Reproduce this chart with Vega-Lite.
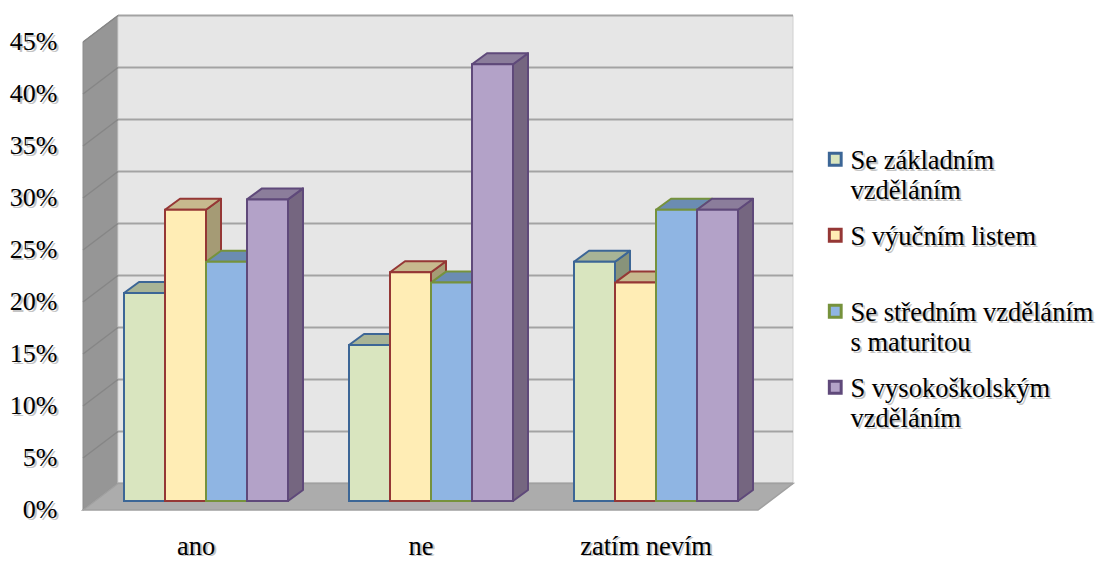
{
"$schema":"https://vega.github.io/schema/vega-lite/v6.json",
"width":1100,"height":561,"padding":0,"autosize":"none","background":"white",
"config":{"view":{"stroke":null}},
"datasets":{
"odpovedi":[
{"odpoved":"ano","vzdelani":"Se základním vzděláním","podil":0.20},
{"odpoved":"ano","vzdelani":"S výučním listem","podil":0.28},
{"odpoved":"ano","vzdelani":"Se středním vzděláním s maturitou","podil":0.23},
{"odpoved":"ano","vzdelani":"S vysokoškolským vzděláním","podil":0.29},
{"odpoved":"ne","vzdelani":"Se základním vzděláním","podil":0.15},
{"odpoved":"ne","vzdelani":"S výučním listem","podil":0.22},
{"odpoved":"ne","vzdelani":"Se středním vzděláním s maturitou","podil":0.21},
{"odpoved":"ne","vzdelani":"S vysokoškolským vzděláním","podil":0.42},
{"odpoved":"zatím nevím","vzdelani":"Se základním vzděláním","podil":0.23},
{"odpoved":"zatím nevím","vzdelani":"S výučním listem","podil":0.21},
{"odpoved":"zatím nevím","vzdelani":"Se středním vzděláním s maturitou","podil":0.28},
{"odpoved":"zatím nevím","vzdelani":"S vysokoškolským vzděláním","podil":0.28}
],
"mrizka":[{"v":0},{"v":0.05},{"v":0.1},{"v":0.15},{"v":0.2},{"v":0.25},{"v":0.3},{"v":0.35},{"v":0.4},{"v":0.45}]
},
"encoding":{
"x":{"field":"x","type":"quantitative","title":null,"scale":{"domain":[0,1100],"nice":false,"zero":false},"axis":null},
"y":{"field":"y","type":"quantitative","title":null,"stack":false,"scale":{"domain":[-0.04904,0.49038],"nice":false,"zero":false},"axis":null}
},
"layer":[
{"data":{"values":[{"k":0},{"k":1}]},
 "transform":[{"calculate":"83+35*datum.k","as":"x"},{"calculate":"0.45+0.0255*datum.k","as":"y"},{"calculate":"0.0255*datum.k","as":"y2"}],
 "mark":{"type":"area","fill":"#969696","stroke":"#8c8c8c","strokeWidth":1},
 "encoding":{"y2":{"field":"y2"},
 "x":{"field":"x","type":"quantitative","title":null,"scale":{"domain":[0,1100],"nice":false,"zero":false},
 "axis":{"orient":"bottom","offset":-28,"values":[195.5,420.5,645.5],"labelExpr":"datum.value<300?'ano':datum.value<500?'ne':'zatím nevím'","domain":false,"ticks":false,"grid":false,"labelFont":"'Liberation Serif'","labelFontSize":26.5,"labelColor":"#c4c4c4","labelPadding":1,"labelOffset":2,"labelBaseline":"top"}},
 "y":{"field":"y","type":"quantitative","title":null,"stack":false,"scale":{"domain":[-0.04904,0.49038],"nice":false,"zero":false},
 "axis":{"orient":"left","offset":-83,"values":[0,0.05,0.1,0.15,0.2,0.25,0.3,0.35,0.4,0.45],"format":".0%","domain":false,"ticks":false,"grid":false,"labelFont":"'Liberation Serif'","labelFontSize":26,"labelColor":"#c4c4c4","labelPadding":24,"labelOffset":2}}}},
{"data":{"values":[{"k":0}]},
 "transform":[{"calculate":"118","as":"x"},{"calculate":"793","as":"x2"},{"calculate":"0.4755","as":"y"},{"calculate":"0.0255","as":"y2"}],
 "mark":{"type":"rect","fill":"#e6e6e6","stroke":"#d0d0d0","strokeWidth":1},
 "encoding":{"x2":{"field":"x2"},"y2":{"field":"y2"}}},
{"data":{"name":"mrizka"},
 "transform":[{"calculate":"118","as":"x"},{"calculate":"793","as":"x2"},{"calculate":"datum.v+0.0255","as":"y"}],
 "mark":{"type":"rule","stroke":"#a3a3a3","strokeWidth":2},
 "encoding":{"x2":{"field":"x2"}}},
{"data":{"name":"mrizka"},
 "transform":[{"calculate":"83","as":"x"},{"calculate":"118","as":"x2"},{"calculate":"datum.v","as":"y"},{"calculate":"datum.v+0.0255","as":"y2"}],
 "mark":{"type":"rule","stroke":"#868686","strokeWidth":1.5},
 "encoding":{"x2":{"field":"x2"},"y2":{"field":"y2"}}},
{"data":{"values":[{"k":0},{"k":1},{"k":2},{"k":3}]},
 "transform":[{"calculate":"[83,118,758,793][datum.k]","as":"x"},{"calculate":"[0,0.0255,0.0255,0.0255][datum.k]","as":"y"},{"calculate":"[0,0,0,0.0255][datum.k]","as":"y2"}],
 "mark":{"type":"area","fill":"#acacac","stroke":"#a0a0a0","strokeWidth":1.5},
 "encoding":{"y2":{"field":"y2"}}},
{"data":{"name":"odpovedi"},
 "transform":[
 {"calculate":"indexof(['ano','ne','zatím nevím'],datum.odpoved)","as":"ci"},
 {"calculate":"indexof(['Se základním vzděláním','S výučním listem','Se středním vzděláním s maturitou','S vysokoškolským vzděláním'],datum.vzdelani)","as":"si"},
 {"calculate":"[0,1]","as":"k"},{"flatten":["k"]},
 {"calculate":"124+225*datum.ci+41*datum.si+41+15*datum.k","as":"x"},
 {"calculate":"0.00865+datum.podil+0.01058*datum.k","as":"y"},
 {"calculate":"0.00865+0.01058*datum.k","as":"y2"}],
 "mark":{"type":"area","strokeWidth":2,"strokeJoin":"round"},
 "encoding":{"y2":{"field":"y2"},"detail":{"field":"odpoved"},
  "fill":{"field":"vzdelani","type":"nominal","title":null,"scale":{"domain":["Se základním vzděláním","S výučním listem","Se středním vzděláním s maturitou","S vysokoškolským vzděláním"],"range":["#88937a","#a59b75","#5f7da3","#756680"]},
   "legend":{"orient":"none","legendX":824,"legendY":148,"columns":1,"rowPadding":17,"symbolType":"square","symbolSize":140,"symbolOpacity":0,"labelFont":"'Liberation Serif'","labelFontSize":26.5,"labelColor":"#c4c4c4","labelLimit":300,"labelOffset":2,"labelBaseline":"top","encoding":{"labels":{"lineHeight":{"value":30},"dy":{"value":-11}}},"labelExpr":"{'Se základním vzděláním':['Se základním','vzděláním'],'S výučním listem':['S výučním listem',' '],'Se středním vzděláním s maturitou':['Se středním vzděláním','s maturitou'],'S vysokoškolským vzděláním':['S vysokoškolským','vzděláním']}[datum.label]"}},
  "stroke":{"field":"vzdelani","type":"nominal","legend":null,"scale":{"domain":["Se základním vzděláním","S výučním listem","Se středním vzděláním s maturitou","S vysokoškolským vzděláním"],"range":["#3c6696","#953735","#76923c","#5f497a"]}}}},
{"data":{"name":"odpovedi"},
 "transform":[
 {"calculate":"indexof(['ano','ne','zatím nevím'],datum.odpoved)","as":"ci"},
 {"calculate":"indexof(['Se základním vzděláním','S výučním listem','Se středním vzděláním s maturitou','S vysokoškolským vzděláním'],datum.vzdelani)","as":"si"},
 {"calculate":"[0,1,2,3]","as":"k"},{"flatten":["k"]},
 {"calculate":"124+225*datum.ci+41*datum.si+[0,15,41,56][datum.k]","as":"x"},
 {"calculate":"0.00865+datum.podil+[0,0.01058,0.01058,0.01058][datum.k]","as":"y"},
 {"calculate":"0.00865+datum.podil+[0,0,0,0.01058][datum.k]","as":"y2"}],
 "mark":{"type":"area","strokeWidth":2,"strokeJoin":"round"},
 "encoding":{"y2":{"field":"y2"},"detail":{"field":"odpoved"},
  "fill":{"field":"vzdelani","type":"nominal","legend":null,"scale":{"domain":["Se základním vzděláním","S výučním listem","Se středním vzděláním s maturitou","S vysokoškolským vzděláním"],"range":["#a8b496","#c7b98e","#6b8cb2","#8b7d9b"]}},
  "stroke":{"field":"vzdelani","type":"nominal","legend":null,"scale":{"domain":["Se základním vzděláním","S výučním listem","Se středním vzděláním s maturitou","S vysokoškolským vzděláním"],"range":["#3c6696","#953735","#76923c","#5f497a"]}}}},
{"data":{"name":"odpovedi"},
 "transform":[
 {"calculate":"indexof(['ano','ne','zatím nevím'],datum.odpoved)","as":"ci"},
 {"calculate":"indexof(['Se základním vzděláním','S výučním listem','Se středním vzděláním s maturitou','S vysokoškolským vzděláním'],datum.vzdelani)","as":"si"},
 {"calculate":"124+225*datum.ci+41*datum.si","as":"x"},
 {"calculate":"datum.x+41","as":"x2"},
 {"calculate":"0.00865+datum.podil","as":"y"},
 {"calculate":"0.00865","as":"y2"}],
 "mark":{"type":"rect","strokeWidth":2},
 "encoding":{"x2":{"field":"x2"},"y2":{"field":"y2"},
  "x":{"field":"x","type":"quantitative","title":null,"scale":{"domain":[0,1100],"nice":false,"zero":false},
  "axis":{"orient":"bottom","offset":-28,"values":[195.5,420.5,645.5],"labelExpr":"datum.value<300?'ano':datum.value<500?'ne':'zatím nevím'","domain":false,"ticks":false,"grid":false,"labelFont":"'Liberation Serif'","labelFontSize":26.5,"labelColor":"#000","labelPadding":0,"labelBaseline":"top"}},
  "y":{"field":"y","type":"quantitative","title":null,"stack":false,"scale":{"domain":[-0.04904,0.49038],"nice":false,"zero":false},
  "axis":{"orient":"left","offset":-83,"values":[0,0.05,0.1,0.15,0.2,0.25,0.3,0.35,0.4,0.45],"format":".0%","domain":false,"ticks":false,"grid":false,"labelFont":"'Liberation Serif'","labelFontSize":26,"labelColor":"#000","labelPadding":26}},
  "fill":{"field":"vzdelani","type":"nominal","title":null,"scale":{"domain":["Se základním vzděláním","S výučním listem","Se středním vzděláním s maturitou","S vysokoškolským vzděláním"],"range":["#d9e5bf","#ffedb5","#8fb5e3","#b3a2c8"]},
   "legend":{"orient":"none","legendX":822,"legendY":146,"columns":1,"rowPadding":17,"symbolType":"square","symbolSize":140,"symbolStrokeWidth":3,"labelFont":"'Liberation Serif'","labelFontSize":26.5,"labelColor":"#000","labelLimit":300,"labelOffset":2,"labelBaseline":"top","encoding":{"labels":{"lineHeight":{"value":30},"dy":{"value":-11}}},"labelExpr":"{'Se základním vzděláním':['Se základním','vzděláním'],'S výučním listem':['S výučním listem',' '],'Se středním vzděláním s maturitou':['Se středním vzděláním','s maturitou'],'S vysokoškolským vzděláním':['S vysokoškolským','vzděláním']}[datum.label]"}},
  "stroke":{"field":"vzdelani","type":"nominal","title":null,"scale":{"domain":["Se základním vzděláním","S výučním listem","Se středním vzděláním s maturitou","S vysokoškolským vzděláním"],"range":["#3c6696","#953735","#76923c","#5f497a"]}}}}
],
"resolve":{"scale":{"fill":"independent","stroke":"independent"},"axis":{"x":"independent","y":"independent"}}
}
